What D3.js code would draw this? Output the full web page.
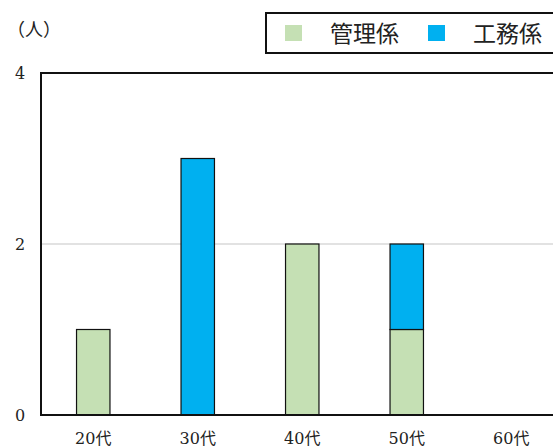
<!DOCTYPE html>
<html>
<head>
<meta charset="utf-8">
<script src="https://cdn.jsdelivr.net/npm/d3@7"></script>
<style>
  body { margin: 0; background: #fff; }
  svg { display: block; }
</style>
</head>
<body>
<div id="chart"></div>
<script>
const categories = ["20代", "30代", "40代", "50代", "60代"];
const seriesNames = ["管理係", "工務係"];
const kanri = [1, 0, 2, 1, 0];
const koumu = [0, 3, 0, 1, 0];
const yTicks = [0, 2, 4];
const colors = ["#C5E0B4", "#00B0F0"];

const w = 553, h = 447;
const padLeft = 41, padRight = 563.5, padTop = 73, padBottom = 415;
const serif = "'DejaVu Serif', 'Liberation Serif', 'Noto Sans CJK JP', serif";

const svg = d3.select("#chart").append("svg").attr("width", w).attr("height", h);

const x = d3.scaleBand().domain(categories).range([padLeft, padRight])
  .paddingInner(0.68).paddingOuter(0.34);
const y = d3.scaleLinear().domain([0, 4]).range([padBottom, padTop]);

// gridline
svg.append("g").selectAll("line")
  .data(yTicks.filter(d => d > 0 && d < 4))
  .join("line")
  .attr("x1", padLeft).attr("x2", w + 20)
  .attr("y1", d => y(d)).attr("y2", d => y(d))
  .attr("stroke", "#d9d9d9").attr("stroke-width", 1.3);

// stacked bars
const table = categories.map((c, i) => ({ cat: c, 管理係: kanri[i], 工務係: koumu[i] }));
const stack = d3.stack().keys(seriesNames)(table);

svg.append("g").selectAll("g")
  .data(stack).join("g")
  .attr("fill", (d, i) => colors[i])
  .selectAll("rect")
  .data(d => d.filter(s => s[1] - s[0] > 0))
  .join("rect")
  .attr("x", d => x(d.data.cat))
  .attr("width", x.bandwidth())
  .attr("y", d => y(d[1]))
  .attr("height", d => y(d[0]) - y(d[1]))
  .attr("stroke", "#111").attr("stroke-width", 1.2);

// plot frame
svg.append("path")
  .attr("d", `M${w + 20},${padTop}H${padLeft}V${padBottom}H${w + 20}`)
  .attr("fill", "none").attr("stroke", "#111").attr("stroke-width", 2);

// y axis labels
svg.append("g").selectAll("text")
  .data(yTicks).join("text")
  .attr("x", 20).attr("y", d => y(d) + 6)
  .attr("text-anchor", "middle")
  .attr("fill", "#222")
  .style("font-family", serif)
  .style("font-size", "16px")
  .text(d => d);

svg.append("text")
  .attr("x", 7).attr("y", 36)
  .attr("fill", "#222")
  .style("font-family", serif)
  .style("font-size", "18px")
  .text("（人）");

// x axis labels
svg.append("g").selectAll("text")
  .data(categories).join("text")
  .attr("x", d => x(d) + x.bandwidth() / 2)
  .attr("y", 444)
  .attr("text-anchor", "middle")
  .attr("fill", "#222")
  .style("font-family", serif)
  .style("font-size", "16px")
  .text(d => d);

// legend
const lg = svg.append("g");
lg.append("rect")
  .attr("x", 266).attr("y", 13).attr("width", 300).attr("height", 40)
  .attr("fill", "#fff").attr("stroke", "#111").attr("stroke-width", 2);
const lx = [285, 428];
seriesNames.forEach((s, i) => {
  lg.append("rect")
    .attr("x", lx[i]).attr("y", 25).attr("width", 17).attr("height", 16)
    .attr("fill", colors[i]);
  lg.append("text")
    .attr("x", lx[i] + 45).attr("y", 42)
    .attr("fill", "#222")
    .style("font-family", serif)
    .style("font-size", "23px")
    .text(s);
});
</script>
</body>
</html>
